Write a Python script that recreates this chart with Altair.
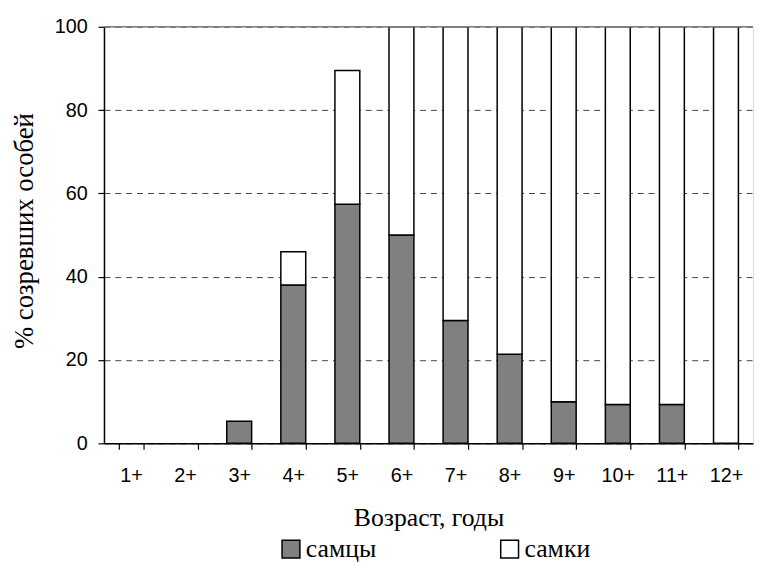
import altair as alt
import pandas as pd

ages = ["1+", "2+", "3+", "4+", "5+", "6+", "7+", "8+", "9+", "10+", "11+", "12+"]
males = [0, 0, 5.3, 38, 57.4, 50, 29.5, 21.4, 10, 9.3, 9.3, 0]
females = [0, 0, 0, 8, 32.1, 50, 70.5, 78.6, 90, 90.7, 90.7, 100]
series_names = ["самцы", "самки"]
series_colors = ["#808080", "#ffffff"]

rows = []
for a, m, f in zip(ages, males, females):
    rows.append({"age": a, "sex": series_names[0], "val": m, "ord": 0})
    rows.append({"age": a, "sex": series_names[1], "val": f, "ord": 1})
df = pd.DataFrame(rows)

bars = alt.Chart(df).transform_filter("datum.val > 0").mark_bar(stroke="black", strokeWidth=1.5).encode(
    x=alt.X("age:N", sort=ages,
            scale=alt.Scale(domain=ages, paddingInner=0.54, paddingOuter=0.27),
            axis=alt.Axis(title="Возраст, годы", labelAngle=0, tickBand="extent",
                          grid=False, domainColor="black", domainWidth=1.5,
                          tickColor="black", tickWidth=1.2, tickSize=6,
                          labelFont="Liberation Sans", labelFontSize=20, labelColor="black",
                          labelPadding=17,
                          titleFont="Liberation Serif", titleFontSize=26, titleFontWeight="normal",
                          titleColor="black", titleBaseline="middle", titleY=75)),
    y=alt.Y("val:Q", stack="zero",
            scale=alt.Scale(domain=[0, 100], nice=False),
            axis=alt.Axis(title="% созревших особей", values=[0, 20, 40, 60, 80, 100],
                          grid=True, gridDash=[6, 5], gridColor="#444", gridWidth=1,
                          domainColor="black", domainWidth=1.5,
                          tickColor="black", tickWidth=1.2, tickSize=6,
                          labelFont="Liberation Sans", labelFontSize=20, labelColor="black",
                          labelPadding=11,
                          titleFont="Liberation Serif", titleFontSize=27, titleFontWeight="normal",
                          titleColor="black", titleAngle=270, titleX=-80, titleY=206,
                          titleAlign="center", titleBaseline="middle")),
    color=alt.Color("sex:N", sort=series_names,
                    scale=alt.Scale(domain=series_names, range=series_colors),
                    legend=alt.Legend(title=None, orient="none", direction="horizontal",
                                      legendX=176, legendY=515,
                                      symbolType="square", symbolSize=324,
                                      symbolStrokeColor="black", symbolStrokeWidth=1.5,
                                      labelFont="Liberation Serif", labelFontSize=26,
                                      labelColor="black", labelOffset=2,
                                      columnPadding=121)),
    order=alt.Order("ord:Q"),
)

top_line = alt.Chart(pd.DataFrame({"y": [100]})).mark_rule(color="#808080", strokeWidth=1.5).encode(
    y="y:Q"
)

chart = alt.layer(bars, top_line).properties(
    width=656, height=421,
    autosize=alt.AutoSizeParams(type="none"),
    padding={"left": 97, "top": 16, "right": 2, "bottom": 118},
).configure_view(stroke=None).configure(background="white")

chart.save("out.html", embed_options={"renderer": "svg", "actions": False})
